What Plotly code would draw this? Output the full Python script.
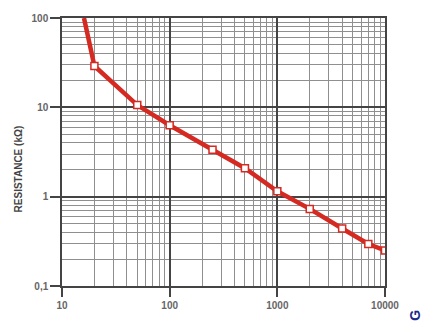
import plotly.graph_objects as go

# Data
freq = [20, 50, 100, 250, 500, 1000, 2000, 4000, 7000, 10000]
resistance = [29, 10.6, 6.3, 3.35, 2.08, 1.15, 0.73, 0.44, 0.295, 0.25]
# curve continues above the top of the plot
curve_x = [16] + freq
curve_y = [100] + resistance

x_tickvals = [10, 100, 1000, 10000]
x_ticktext = ["<b>10</b>", "<b>100</b>", "<b>1000</b>", "<b>10000</b>"]
y_tickvals = [0.1, 1, 10, 100]
y_ticktext = ["<b>0,1</b>", "<b>1</b>", "<b>10</b>", "<b>100</b>"]

x_minor = [m * d for d in (10, 100, 1000) for m in range(2, 10)]
y_minor = [m * d for d in (0.1, 1, 10) for m in range(2, 10)]

RED = "#d42a22"

fig = go.Figure()
fig.add_trace(go.Scatter(x=curve_x, y=curve_y, mode="lines",
                         line=dict(color=RED, width=4.5), hoverinfo="skip"))
fig.add_trace(go.Scatter(x=freq, y=resistance, mode="markers",
                         marker=dict(symbol="square", size=7, color="white",
                                     line=dict(color=RED, width=1.5))))

font = dict(family="Liberation Sans, Arial, sans-serif", size=10, color="#555")
tickfont = dict(family=font["family"], size=10, color="#666")

fig.update_xaxes(type="log", range=[1, 4], tickvals=x_tickvals, ticktext=x_ticktext,
                 ticks="outside", ticklen=9, tickcolor="#444", tickwidth=1.5,
                 showgrid=True, gridcolor="#444", gridwidth=1.5,
                 minor=dict(tickvals=x_minor, showgrid=True, gridcolor="#8f8f8f", gridwidth=1, ticks=""),
                 showline=True, linecolor="#444", linewidth=1.5, mirror=True,
                 tickfont=tickfont, zeroline=False)
fig.update_yaxes(type="log", range=[-1, 2], tickvals=y_tickvals, ticktext=y_ticktext,
                 ticks="outside", ticklen=10, tickcolor="#444", tickwidth=1.5,
                 showgrid=True, gridcolor="#444", gridwidth=1.5,
                 minor=dict(tickvals=y_minor, showgrid=True, gridcolor="#8f8f8f", gridwidth=1, ticks=""),
                 showline=True, linecolor="#444", linewidth=1.5, mirror=True,
                 tickfont=tickfont, zeroline=False)

fig.add_annotation(text="<b>RESISTANCE (kΩ)</b>", textangle=-90, showarrow=False,
                   xref="paper", yref="paper", x=(18 - 62) / 323, y=0.435,
                   xanchor="center", yanchor="middle",
                   font=dict(family=font["family"], size=10, color="#444"))
fig.add_annotation(text="<b>G</b>", textangle=-90, showarrow=False,
                   xref="paper", yref="paper", x=(415 - 62) / 323, y=(286 - 316) / 271,
                   xanchor="center", yanchor="middle",
                   font=dict(family=font["family"], size=14, color="#1a2a8a"))

fig.update_layout(width=427, height=325, margin=dict(l=62, r=42, t=15, b=39),
                  plot_bgcolor="white", paper_bgcolor="white", showlegend=False,
                  font=font)

fig.write_html("out.html", config={"displayModeBar": False})
# remove the default page margin so the figure sits at the window origin
with open("out.html", encoding="utf-8") as f:
    html = f.read()
html = html.replace("<head>", "<head><style>html,body{margin:0;padding:0;overflow:hidden;}</style>", 1)
with open("out.html", "w", encoding="utf-8") as f:
    f.write(html)
